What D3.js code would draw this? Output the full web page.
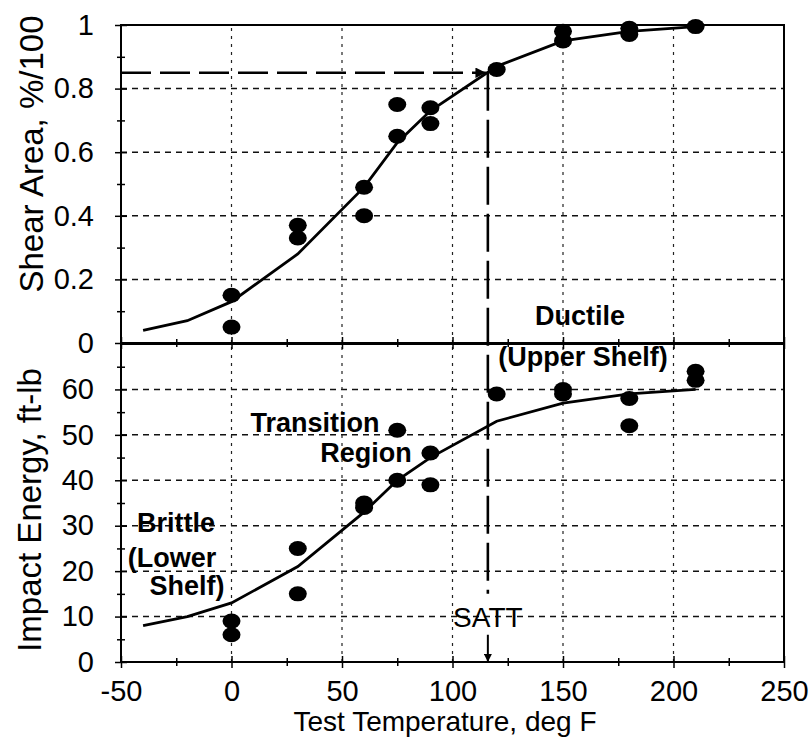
<!DOCTYPE html>
<html><head><meta charset="utf-8">
<script src="https://cdn.jsdelivr.net/npm/d3@7"></script>
<style>body{margin:0;background:#fff}text{font-family:"Liberation Sans",Arial,sans-serif;fill:#000}</style>
</head><body><svg id="c" width="810" height="740"></svg>
<script>
// ---- data ----
const xTicks = [-50, 0, 50, 100, 150, 200, 250];
const shearTicks = [0, 0.2, 0.4, 0.6, 0.8, 1];
const energyTicks = [0, 10, 20, 30, 40, 50, 60];
const tempShear = [0, 0, 30, 30, 60, 60, 75, 75, 90, 90, 120, 150, 150, 180, 180, 210];
const shear =     [0.15, 0.05, 0.37, 0.33, 0.49, 0.40, 0.75, 0.65, 0.74, 0.69, 0.86, 0.98, 0.95, 0.99, 0.97, 0.995];
const tempEnergy = [0, 0, 30, 30, 60, 60, 75, 75, 90, 90, 120, 150, 150, 180, 180, 210, 210];
const energy =     [9, 6, 25, 15, 35, 34, 51, 40, 46, 39, 59, 60, 59, 58, 52, 64, 62];
const curveTemp =   [-40, -20, 0, 30, 60, 75, 90, 120, 150, 180, 210];
const shearCurve =  [0.04, 0.07, 0.13, 0.28, 0.49, 0.63, 0.73, 0.87, 0.95, 0.98, 0.995];
const energyCurve = [8, 10, 13, 21, 33, 40, 45, 53, 57, 59, 60];
const sattTemp = 116;
const sattShear = 0.85;

// ---- layout ----
const svg = d3.select("#c");
const x = d3.scaleLinear().domain([-50, 250]).range([121, 784]);
const yS = d3.scaleLinear().domain([0, 1]).range([343, 25]);
const yE = d3.scaleLinear().domain([0, 70]).range([662, 344]);

const defs = svg.append("defs");
defs.append("marker").attr("id", "arr").attr("viewBox", "0 0 10 10")
  .attr("refX", 10).attr("refY", 5).attr("markerWidth", 7).attr("markerHeight", 4)
  .attr("markerUnits", "strokeWidth").attr("orient", "auto")
  .append("path").attr("d", "M0,0 L10,5 L0,10 Z").attr("fill", "#000");

// gridlines
function grid(y, yt) {
  const g = svg.append("g");
  g.selectAll("line.h").data(yt).join("line")
    .attr("x1", x(-50)).attr("x2", x(250)).attr("y1", d => y(d)).attr("y2", d => y(d))
    .attr("stroke", "#111").attr("stroke-width", 1.5).attr("stroke-dasharray", "6,5");
  g.selectAll("line.v").data([0, 50, 100, 150, 200]).join("line")
    .attr("x1", d => x(d)).attr("x2", d => x(d)).attr("y1", y.range()[0]).attr("y2", y.range()[1])
    .attr("stroke", "#222").attr("stroke-width", 1.2).attr("stroke-dasharray", "3,5");
}
grid(yS, [0.2, 0.4, 0.6, 0.8]);
grid(yE, [10, 20, 30, 40, 50, 60]);

// frames
[yS, yE].forEach(y => {
  svg.append("rect").attr("x", x(-50)).attr("y", y.range()[1])
    .attr("width", x(250) - x(-50)).attr("height", y.range()[0] - y.range()[1])
    .attr("fill", "none").attr("stroke", "#000").attr("stroke-width", 2);
});

// axes
function crossTicks(g, len, horiz) {
  g.select(".domain").remove();
  g.selectAll(".tick line").attr(horiz ? "y1" : "x1", len).attr("stroke", "#000").attr("stroke-width", 1.5);
}
function leftAxis(y, ticks, minor, fmt) {
  const g = svg.append("g").attr("transform", `translate(${x(-50)},0)`)
    .call(d3.axisLeft(y).tickValues(ticks).tickFormat(fmt).tickSizeInner(6).tickSizeOuter(0).tickPadding(21));
  crossTicks(g, 6, false);
  g.selectAll("text").attr("font-size", 29).attr("font-family", '"Liberation Sans",Arial,sans-serif');
  const m = svg.append("g").attr("transform", `translate(${x(-50)},0)`)
    .call(d3.axisLeft(y).tickValues(minor).tickFormat("").tickSizeInner(4).tickSizeOuter(0));
  crossTicks(m, 4, false);
}
leftAxis(yS, shearTicks, [0.1, 0.3, 0.5, 0.7, 0.9], d => d === 0 || d === 1 ? String(d) : d.toFixed(1));
leftAxis(yE, energyTicks, [5, 15, 25, 35, 45, 55, 65], d => String(d));

function bottomAxis(yPos, labels) {
  const g = svg.append("g").attr("transform", `translate(0,${yPos})`)
    .call(d3.axisBottom(x).tickValues(xTicks).tickFormat(labels ? (d => String(d)) : "").tickSizeInner(6).tickSizeOuter(0).tickPadding(12));
  crossTicks(g, -6, true);
  g.selectAll("text").attr("font-size", 29).attr("font-family", '"Liberation Sans",Arial,sans-serif');
  const m = svg.append("g").attr("transform", `translate(0,${yPos})`)
    .call(d3.axisBottom(x).tickValues([-25, 25, 75, 125, 175, 225]).tickFormat("").tickSizeInner(4).tickSizeOuter(0));
  crossTicks(m, -4, true);
}
bottomAxis(yS(0), false);
bottomAxis(yE(0), true);

// SATT guide lines
svg.append("line").attr("x1", x(-50)).attr("x2", x(sattTemp) - 2)
  .attr("y1", yS(sattShear)).attr("y2", yS(sattShear))
  .attr("stroke", "#000").attr("stroke-width", 2.6).attr("stroke-dasharray", "30,9")
  .attr("marker-end", "url(#arr)");
svg.append("line").attr("x1", x(sattTemp)).attr("x2", x(sattTemp))
  .attr("y1", yS(sattShear)).attr("y2", yE(15))
  .attr("stroke", "#000").attr("stroke-width", 2.6).attr("stroke-dasharray", "38,9");
svg.append("line").attr("x1", x(sattTemp)).attr("x2", x(sattTemp))
  .attr("y1", yE(6)).attr("y2", yE(0))
  .attr("stroke", "#000").attr("stroke-width", 2).attr("marker-end", "url(#arr)");

// curves
const lineS = d3.line().x((d, i) => x(curveTemp[i])).y(d => yS(d));
const lineE = d3.line().x((d, i) => x(curveTemp[i])).y(d => yE(d));
svg.append("path").attr("d", lineS(shearCurve)).attr("fill", "none").attr("stroke", "#000").attr("stroke-width", 2.8);
svg.append("path").attr("d", lineE(energyCurve)).attr("fill", "none").attr("stroke", "#000").attr("stroke-width", 2.8);

// points
svg.append("g").selectAll("ellipse").data(shear).join("ellipse")
  .attr("cx", (d, i) => x(tempShear[i])).attr("cy", d => yS(d)).attr("rx", 9).attr("ry", 7.5).attr("fill", "#000");
svg.append("g").selectAll("ellipse").data(energy).join("ellipse")
  .attr("cx", (d, i) => x(tempEnergy[i])).attr("cy", d => yE(d)).attr("rx", 9).attr("ry", 7.5).attr("fill", "#000");

// labels
const labels = [
  ["Ductile", 580, 325], ["(Upper Shelf)", 583, 366],
  ["Transition", 315, 432], ["Region", 366, 462],
  ["Brittle", 176, 532], ["(Lower", 172, 567], ["Shelf)", 187, 595]
];
svg.append("g").selectAll("text").data(labels).join("text")
  .attr("x", d => d[1]).attr("y", d => d[2]).attr("text-anchor", "middle")
  .attr("font-size", 27).attr("font-weight", "bold").text(d => d[0]);
svg.append("text").attr("x", x(sattTemp)).attr("y", 627).attr("text-anchor", "middle")
  .attr("font-size", 28).text("SATT");

// axis titles
svg.append("text").attr("transform", "translate(43,154) rotate(-90)").attr("text-anchor", "middle")
  .attr("font-size", 33).text("Shear Area, %/100");
svg.append("text").attr("transform", "translate(41,510) rotate(-90)").attr("text-anchor", "middle")
  .attr("font-size", 33).text("Impact Energy, ft-lb");
svg.append("text").attr("x", 445).attr("y", 731).attr("text-anchor", "middle")
  .attr("font-size", 28).text("Test Temperature, deg F");
</script></body></html>
